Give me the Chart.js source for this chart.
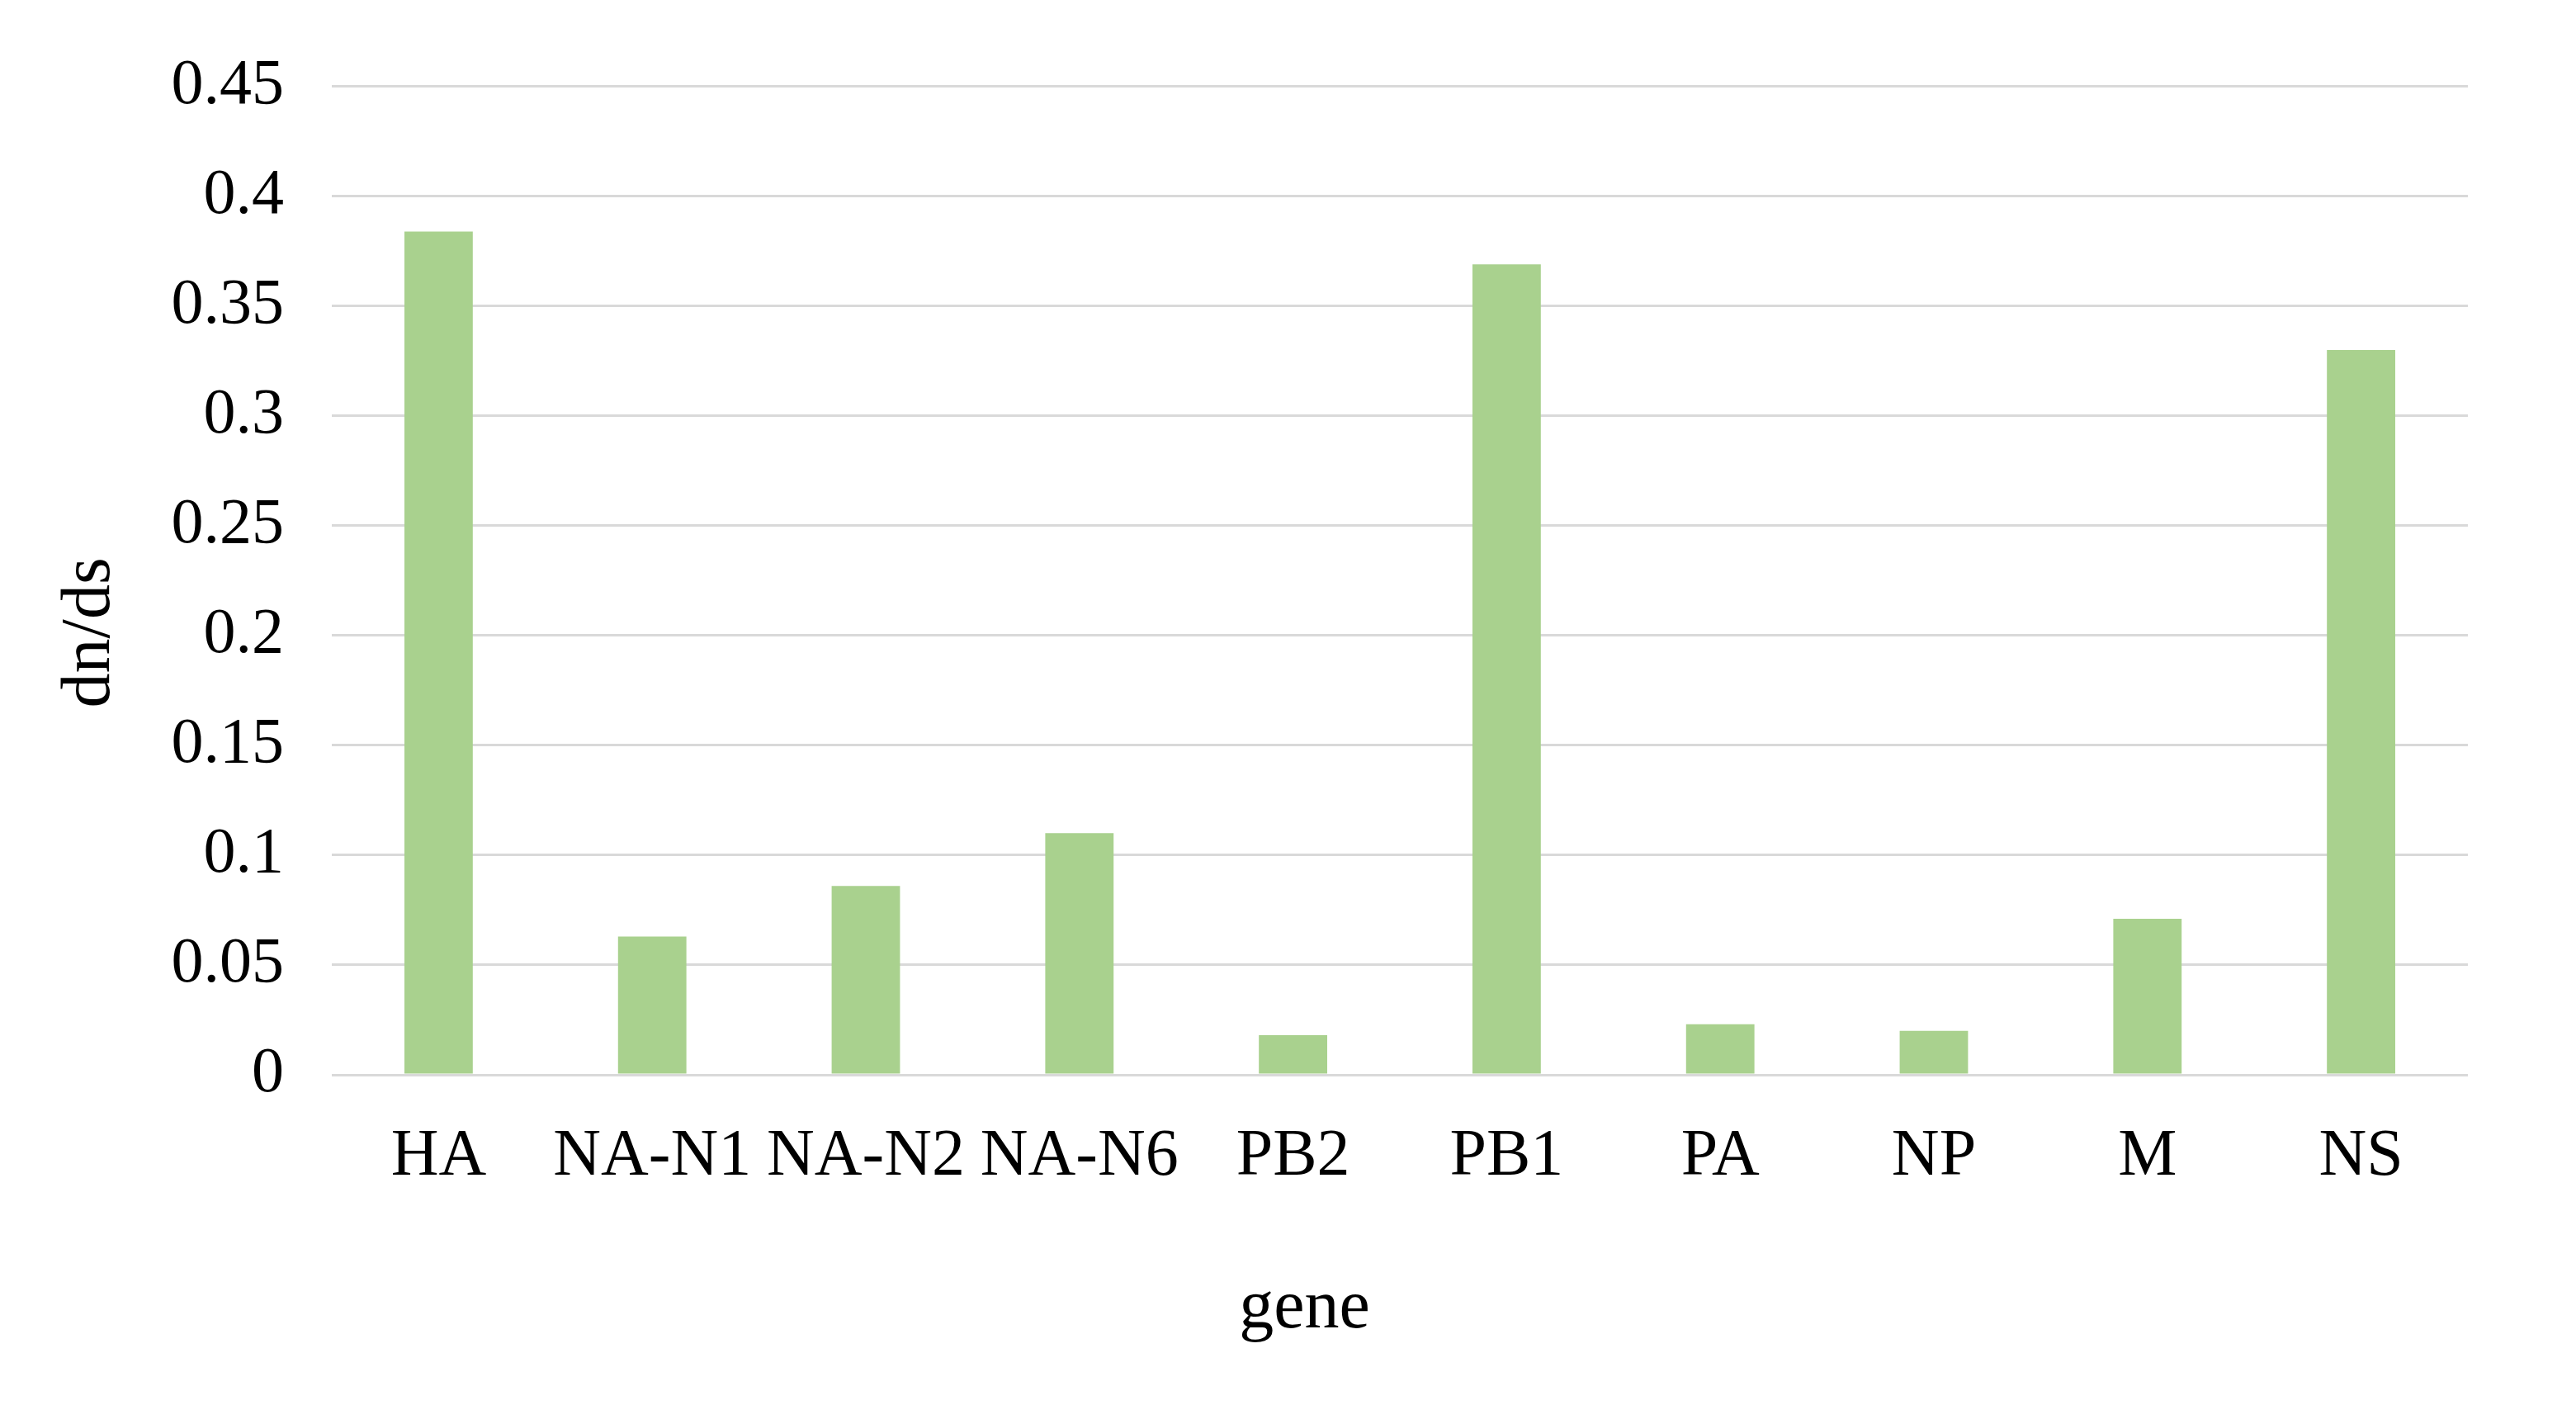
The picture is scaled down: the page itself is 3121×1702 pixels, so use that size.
<!DOCTYPE html>
<html>
<head>
<meta charset="utf-8">
<script src="https://cdn.jsdelivr.net/npm/chart.js@4.4.0/dist/chart.umd.min.js"></script>
<style>
  html, body { margin: 0; padding: 0; background: #fff; }
  #wrap { width: 3121px; height: 1702px; }
</style>
</head>
<body>
<div id="wrap"><canvas id="dnds" width="3121" height="1702"></canvas></div>
<script>
// gene segments and their dn/ds ratios
const genes = ['HA', 'NA-N1', 'NA-N2', 'NA-N6', 'PB2', 'PB1', 'PA', 'NP', 'M', 'NS'];
const dnds = [0.384, 0.063, 0.086, 0.110, 0.018, 0.369, 0.023, 0.020, 0.071, 0.330];
const yTicks = [0, 0.05, 0.1, 0.15, 0.2, 0.25, 0.3, 0.35, 0.4, 0.45];

const serif = '"Liberation Serif", "Times New Roman", serif';
// titles in the original sit off-centre; pad them with trailing no-break spaces
const nb = (n) => '\u00a0'.repeat(n);

const ctx = document.getElementById('dnds').getContext('2d');

new Chart(ctx, {
    type: 'bar',
    data: {
        labels: genes,
        datasets: [{
            label: 'dn/ds',
            data: dnds,
            backgroundColor: '#a9d18e',
            borderWidth: 0,
            categoryPercentage: 1,
            barPercentage: 0.32
        }]
    },
    options: {
        responsive: false,
        animation: false,
        layout: {
            padding: { left: 0, right: 131, top: 100, bottom: 0 }
        },
        plugins: {
            legend: { display: false },
            tooltip: { enabled: false }
        },
        scales: {
            x: {
                grid: { display: false, drawTicks: false },
                border: { display: false },
                ticks: {
                    color: '#000',
                    padding: 52,
                    maxRotation: 0,
                    autoSkip: false,
                    font: { family: serif, size: 80 }
                },
                title: {
                    display: true,
                    text: 'gene' + nb(11),
                    color: '#000',
                    padding: { top: 0, bottom: 66 },
                    font: { family: serif, size: 84 }
                },
                afterFit: (scale) => { scale.height = 400; }
            },
            y: {
                min: 0,
                max: 0.45,
                afterBuildTicks: (scale) => {
                    scale.ticks = yTicks.map(v => ({ value: v }));
                },
                grid: { color: '#d9d9d9', lineWidth: 3, drawTicks: false },
                border: { display: false },
                ticks: {
                    color: '#000',
                    padding: 58,
                    font: { family: serif, size: 78 },
                    callback: (v) => String(v)
                },
                title: {
                    display: true,
                    text: 'dn/ds' + nb(6),
                    color: '#000',
                    padding: { top: 60, bottom: 0 },
                    font: { family: serif, size: 84 }
                },
                afterFit: (scale) => { scale.width = 402; }
            }
        }
    }
});
</script>
</body>
</html>
